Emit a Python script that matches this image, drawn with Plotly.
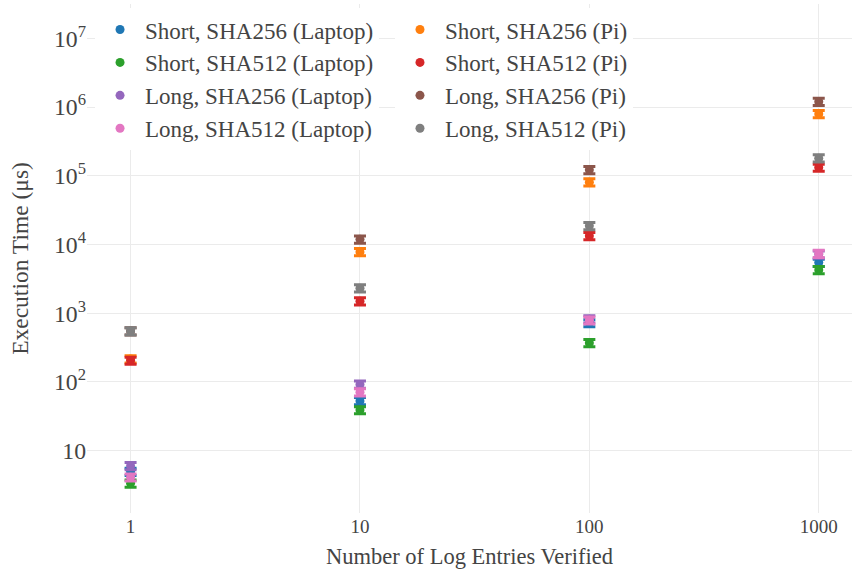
import plotly.graph_objects as go

# Number of log entries verified per run
entries = [1, 10, 100, 1000]

# Mean execution time in microseconds for each configuration
short_sha256_laptop = [4.95, 53, 720, 5460]
short_sha256_pi = [215, 7800, 80700, 796000]
short_sha512_laptop = [3.35, 39, 370, 4270]
short_sha512_pi = [205, 1495, 13300, 132000]
long_sha256_laptop = [6.0, 92, 820, 7200]
long_sha256_pi = [550, 11900, 122000, 1200000]
long_sha512_laptop = [4.1, 71, 790, 7380]
long_sha512_pi = [550, 2310, 18700, 180000]

# (label, values, colour, legend column)
series = [
    ("Short, SHA256 (Laptop)", short_sha256_laptop, "#1f77b4", "legend"),
    ("Short, SHA256 (Pi)", short_sha256_pi, "#ff7f0e", "legend2"),
    ("Short, SHA512 (Laptop)", short_sha512_laptop, "#2ca02c", "legend"),
    ("Short, SHA512 (Pi)", short_sha512_pi, "#d62728", "legend2"),
    ("Long, SHA256 (Laptop)", long_sha256_laptop, "#9467bd", "legend"),
    ("Long, SHA256 (Pi)", long_sha256_pi, "#8c564b", "legend2"),
    ("Long, SHA512 (Laptop)", long_sha512_laptop, "#e377c2", "legend"),
    ("Long, SHA512 (Pi)", long_sha512_pi, "#7f7f7f", "legend2"),
]

FONT = "Liberation Serif, DejaVu Serif, serif"
TEXT = "#444444"
GRID = "#ebebeb"

fig = go.Figure()
for name, values, color, leg in series:
    fig.add_trace(go.Scatter(
        x=entries,
        y=values,
        name=name,
        legend=leg,
        mode="markers",
        marker=dict(color=color, size=9, symbol="circle"),
        error_y=dict(type="percent", value=12, thickness=3, width=6, color=color),
    ))

legend_style = dict(
    orientation="v",
    xanchor="left",
    y=0.992,
    yanchor="top",
    bgcolor="white",
    itemwidth=40,
    font=dict(family=FONT, size=23, color=TEXT),
    itemclick=False,
    traceorder="normal",
)

fig.update_layout(
    width=854,
    height=569,
    margin=dict(l=87, r=2, t=4, b=56),
    paper_bgcolor="white",
    plot_bgcolor="white",
    font=dict(family=FONT, size=19, color=TEXT),
    showlegend=True,
    legend=dict(x=0.0105, **legend_style),
    legend2=dict(x=0.4026, **legend_style),
    xaxis=dict(
        type="log",
        range=[-0.19, 3.145],
        tickvals=entries,
        ticktext=[str(v) for v in entries],
        tickfont=dict(size=19),
        showgrid=True,
        gridcolor=GRID,
        zeroline=False,
        showline=False,
        ticks="",
        automargin=False,
        title=dict(text="Number of Log Entries Verified", standoff=12,
                   font=dict(size=22.5)),
    ),
    yaxis=dict(
        type="log",
        range=[0.093, 7.5],
        dtick=1,
        exponentformat="power",
        tickfont=dict(size=19),
        showgrid=True,
        gridcolor=GRID,
        zeroline=False,
        showline=False,
        ticks="",
        automargin=False,
        title=dict(text="Execution Time (μs)", standoff=18,
                   font=dict(size=23.5)),
    ),
)

fig.write_html("out.html")
